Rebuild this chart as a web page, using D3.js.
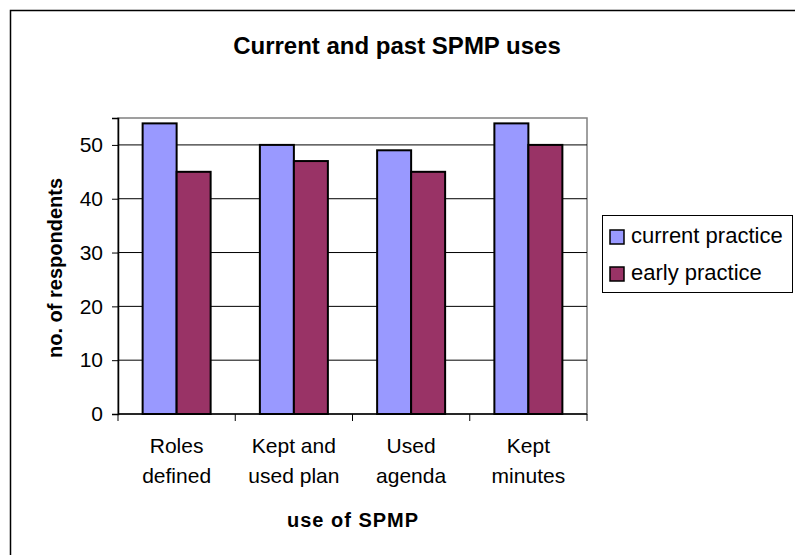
<!DOCTYPE html>
<html>
<head>
<meta charset="utf-8">
<script src="https://cdn.jsdelivr.net/npm/d3@7"></script>
<style>
  body { margin: 0; background: #fff; }
  svg { font-family: "Liberation Sans", Arial, sans-serif; }
</style>
</head>
<body>
<div id="chart"></div>
<script>
// Current and past SPMP uses - grouped bar chart

const categories = [['Roles', 'defined'], ['Kept and', 'used plan'], ['Used', 'agenda'], ['Kept', 'minutes']];
const seriesNames = ['current practice', 'early practice'];
const currentPractice = [54, 50, 49, 54];
const earlyPractice = [45, 47, 45, 50];
const yTicks = [0, 10, 20, 30, 40, 50];
const colors = ['#9999ff', '#993366'];

const width = 795, height = 555;
const plot = { left: 118, top: 118, right: 587, bottom: 414 };

const svg = d3.select('#chart').append('svg')
    .attr('width', width)
    .attr('height', height);

// outer frame (right/bottom run off the page)
svg.append('rect')
    .attr('x', 10.5).attr('y', 10.5)
    .attr('width', 800).attr('height', 600)
    .attr('fill', 'none')
    .attr('stroke', '#000')
    .attr('stroke-width', 1.5);

const x0 = d3.scaleBand()
    .domain(d3.range(categories.length))
    .range([plot.left, plot.right]);

const x1 = d3.scaleBand()
    .domain(d3.range(seriesNames.length))
    .range([0, 68]);

const y = d3.scaleLinear()
    .domain([0, 55])
    .range([plot.bottom, plot.top]);

// plot area border
svg.append('rect')
    .attr('x', plot.left).attr('y', plot.top)
    .attr('width', plot.right - plot.left)
    .attr('height', plot.bottom - plot.top)
    .attr('fill', 'none')
    .attr('stroke', '#808080')
    .attr('stroke-width', 1.5);

// gridlines
svg.append('g')
    .selectAll('line')
    .data(yTicks.filter(d => d > 0))
    .enter().append('line')
    .attr('x1', plot.left).attr('x2', plot.right)
    .attr('y1', d => y(d)).attr('y2', d => y(d))
    .style('stroke', '#000')
    .style('stroke-width', 1);

// bars
const groups = svg.append('g')
    .selectAll('g')
    .data(categories.map((c, i) => [currentPractice[i], earlyPractice[i]]))
    .enter().append('g')
    .attr('transform', (d, i) => `translate(${x0(i) + (x0.bandwidth() - 68) / 2},0)`);

groups.selectAll('rect')
    .data(d => d)
    .enter().append('rect')
    .attr('x', (d, j) => x1(j))
    .attr('y', d => y(d))
    .attr('width', x1.bandwidth())
    .attr('height', d => y(0) - y(d))
    .attr('fill', (d, j) => colors[j])
    .attr('stroke', '#000')
    .attr('stroke-width', 2);

// y axis
const yAxis = svg.append('g')
    .attr('transform', `translate(${plot.left},0)`)
    .call(d3.axisLeft(y).tickValues(yTicks).tickSize(6).tickPadding(9));
yAxis.select('.domain').attr('stroke', '#000').attr('stroke-width', 1.5);
yAxis.selectAll('.tick line').attr('stroke', '#000');
yAxis.selectAll('.tick text')
    .style('font-size', '21px')
    .attr('fill', '#000');

// x axis
const xAxisG = svg.append('g')
    .attr('transform', `translate(0,${plot.bottom})`);
xAxisG.append('line')
    .attr('x1', plot.left).attr('x2', plot.right)
    .attr('stroke', '#000').attr('stroke-width', 1.5);
xAxisG.selectAll('.sep')
    .data(d3.range(categories.length + 1))
    .enter().append('line')
    .attr('x1', i => i < categories.length ? x0(i) : plot.right)
    .attr('x2', i => i < categories.length ? x0(i) : plot.right)
    .attr('y1', 0).attr('y2', 7)
    .attr('stroke', '#000');

const labels = xAxisG.selectAll('text')
    .data(categories)
    .enter().append('text')
    .attr('x', (d, i) => x0(i) + x0.bandwidth() / 2)
    .attr('text-anchor', 'middle')
    .style('font-size', '21px');
labels.selectAll('tspan')
    .data(d => d)
    .enter().append('tspan')
    .attr('x', function() { return d3.select(this.parentNode).attr('x'); })
    .attr('y', (d, k) => 39 + k * 30)
    .text(d => d);

// titles
svg.append('text')
    .attr('x', 397).attr('y', 54)
    .attr('text-anchor', 'middle')
    .style('font-size', '24px')
    .style('font-weight', 'bold')
    .text('Current and past SPMP uses');

svg.append('text')
    .attr('x', 353).attr('y', 527)
    .attr('text-anchor', 'middle')
    .style('font-size', '20px')
    .style('font-weight', 'bold')
    .style('letter-spacing', '1px')
    .text('use of SPMP');

svg.append('text')
    .attr('transform', 'translate(62,268) rotate(-90)')
    .attr('text-anchor', 'middle')
    .style('font-size', '20px')
    .style('font-weight', 'bold')
    .text('no. of respondents');

// legend
const legend = svg.append('g');
legend.append('rect')
    .attr('x', 602.5).attr('y', 215.5)
    .attr('width', 190).attr('height', 77)
    .attr('fill', '#fff')
    .attr('stroke', '#000');

const items = legend.selectAll('g.item')
    .data(seriesNames)
    .enter().append('g')
    .attr('transform', (d, i) => `translate(610,${230 + i * 37})`);
items.append('rect')
    .attr('width', 14).attr('height', 14)
    .attr('fill', (d, i) => colors[i])
    .attr('stroke', '#000')
    .attr('stroke-width', 1.5);
items.append('text')
    .attr('x', 21).attr('y', 13)
    .style('font-size', '22px')
    .text(d => d);
</script>
</body>
</html>
